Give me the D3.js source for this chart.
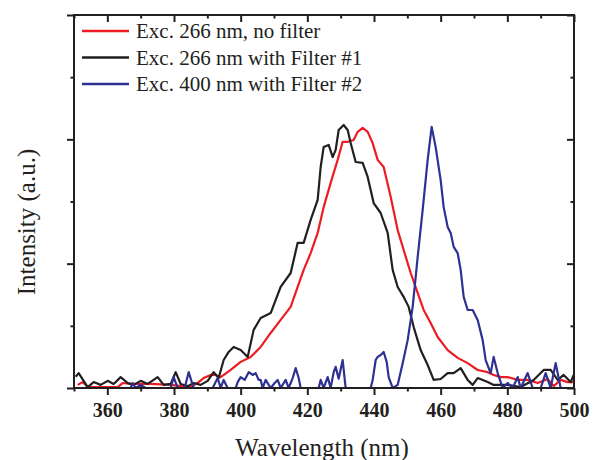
<!DOCTYPE html>
<html>
<head>
<meta charset="utf-8">
<script src="https://cdn.jsdelivr.net/npm/d3@7"></script>
<style>
    body { margin: 0; background: #fff; }
    svg { display: block; }
</style>
</head>
<body>
<div id="chart"></div>
<script>
// Wavelength (nm) and normalised intensity
let noFilterNm = [351.1, 352.6, 354.1, 358.0, 363.1, 364.6, 367.0, 373.0, 379.0, 382.0, 385.0, 387.0, 388.9, 391.0, 392.5, 394.0, 397.0, 400.0, 403.0, 406.0, 409.0, 412.0, 415.0, 417.1, 418.9, 421.0, 423.1, 424.9, 427.0, 429.1, 430.6, 432.1, 433.9, 435.1, 436.6, 438.1, 439.6, 441.1, 442.9, 445.0, 447.1, 448.9, 451.0, 453.1, 454.9, 457.0, 459.1, 462.1, 465.1, 468.1, 471.1, 474.1, 475.9, 478.0, 480.1, 483.1, 486.1, 489.1, 492.1, 493.9, 496.0, 498.1, 499.9]
let noFilterI = [0.010, 0.019, 0.003, 0.003, 0.003, 0.016, 0.013, 0.013, 0.010, 0.006, 0.003, 0.016, 0.032, 0.042, 0.042, 0.035, 0.058, 0.084, 0.100, 0.132, 0.177, 0.219, 0.261, 0.325, 0.380, 0.434, 0.499, 0.582, 0.660, 0.734, 0.792, 0.792, 0.798, 0.824, 0.837, 0.824, 0.788, 0.734, 0.711, 0.615, 0.508, 0.444, 0.370, 0.306, 0.251, 0.209, 0.164, 0.122, 0.097, 0.080, 0.058, 0.051, 0.042, 0.035, 0.035, 0.026, 0.026, 0.016, 0.029, 0.006, 0.026, 0.019, 0.019]

let filter1Nm = [350.5, 351.4, 354.1, 355.9, 358.0, 360.1, 361.9, 364.0, 366.1, 367.9, 370.0, 372.1, 375.1, 376.9, 379.0, 380.5, 382.0, 384.1, 385.9, 388.0, 390.1, 391.9, 393.4, 394.9, 396.4, 397.9, 400.0, 402.1, 403.9, 406.0, 409.0, 412.0, 415.0, 417.1, 418.9, 421.0, 423.1, 424.0, 424.9, 426.4, 427.6, 428.5, 429.4, 430.9, 432.1, 433.0, 434.5, 436.6, 438.1, 439.9, 442.0, 444.1, 445.6, 447.1, 448.9, 450.4, 451.9, 454.0, 456.1, 457.9, 460.0, 462.1, 463.9, 466.0, 468.1, 469.6, 471.1, 474.1, 475.9, 480.1, 484.0, 487.9, 490.9, 493.0, 495.1, 496.9, 499.0, 499.9]
let filter1I = [0.036, 0.048, 0.003, 0.019, 0.010, 0.023, 0.013, 0.035, 0.016, 0.010, 0.023, 0.013, 0.035, 0.010, 0.013, 0.051, 0.013, 0.006, 0.016, 0.010, 0.023, 0.051, 0.032, 0.090, 0.116, 0.132, 0.122, 0.100, 0.187, 0.225, 0.241, 0.325, 0.370, 0.467, 0.467, 0.541, 0.605, 0.711, 0.775, 0.782, 0.743, 0.766, 0.830, 0.846, 0.830, 0.788, 0.727, 0.724, 0.679, 0.595, 0.563, 0.499, 0.380, 0.325, 0.293, 0.261, 0.196, 0.122, 0.074, 0.026, 0.029, 0.048, 0.048, 0.064, 0.026, 0.010, 0.032, 0.019, 0.010, 0.010, 0.003, 0.026, 0.058, 0.058, 0.026, 0.042, 0.019, 0.042]

let filter2Nm = [350.2, 367.0, 367.6, 368.5, 370.0, 371.5, 379.0, 379.9, 381.1, 383.2, 384.4, 385.9, 391.6, 393.1, 394.0, 394.9, 396.1, 398.5, 399.1, 400.0, 401.2, 402.4, 403.6, 404.5, 405.4, 406.0, 406.6, 407.5, 409.0, 410.2, 411.1, 412.0, 413.5, 414.4, 415.6, 416.5, 417.4, 418.0, 423.4, 424.0, 424.9, 426.1, 427.0, 427.9, 428.5, 429.4, 430.6, 431.5, 439.0, 439.6, 440.5, 441.1, 442.0, 442.9, 443.8, 444.4, 445.6, 447.1, 448.6, 450.1, 451.6, 453.1, 454.6, 456.1, 457.3, 458.5, 460.0, 460.9, 462.1, 463.0, 463.9, 465.1, 466.0, 466.9, 468.1, 469.6, 471.1, 472.6, 473.5, 475.0, 475.9, 477.1, 478.6, 480.1, 481.6, 483.1, 484.0, 486.1, 487.6, 490.0, 491.5, 493.0, 494.5, 496.0, 500.0]
let filter2I = [0.000, 0.000, 0.016, 0.000, 0.010, 0.000, 0.000, 0.035, 0.000, 0.000, 0.051, 0.000, 0.000, 0.032, 0.000, 0.026, 0.000, 0.000, 0.019, 0.035, 0.026, 0.051, 0.042, 0.048, 0.026, 0.026, 0.000, 0.026, 0.000, 0.016, 0.026, 0.000, 0.026, 0.000, 0.032, 0.064, 0.032, 0.000, 0.000, 0.026, 0.000, 0.035, 0.000, 0.051, 0.068, 0.030, 0.090, 0.000, 0.000, 0.026, 0.090, 0.100, 0.106, 0.116, 0.084, 0.035, 0.000, 0.010, 0.080, 0.154, 0.261, 0.421, 0.573, 0.734, 0.840, 0.775, 0.669, 0.582, 0.518, 0.499, 0.454, 0.434, 0.380, 0.293, 0.251, 0.251, 0.219, 0.154, 0.090, 0.048, 0.100, 0.048, 0.000, 0.016, 0.000, 0.035, 0.000, 0.048, 0.000, 0.000, 0.048, 0.000, 0.080, 0.000, 0.000]

let seriesNames = ['Exc. 266 nm, no filter', 'Exc. 266 nm with Filter #1', 'Exc. 400 nm with Filter #2']
let seriesColors = ['#ed1c24', '#231f20', '#2e3192']

let xMajorTicks = [360, 380, 400, 420, 440, 460, 480, 500]
let xMinorTicks = [350, 370, 390, 410, 430, 450, 470, 490]
let yMajorTicks = [0, 0.4, 0.8, 1.2]
let yMinorTicks = [0.2, 0.6, 1.0]

let width = 593,
    height = 460,
    margin = {top: 15, right: 19, bottom: 72, left: 74},
    serif = '"Liberation Serif", "Times New Roman", serif'

let series = [
    {name: seriesNames[0], color: seriesColors[0], data: d3.zip(noFilterNm, noFilterI)},
    {name: seriesNames[1], color: seriesColors[1], data: d3.zip(filter1Nm, filter1I)},
    {name: seriesNames[2], color: seriesColors[2], data: d3.zip(filter2Nm, filter2I)},
]

let $svg = d3.select('#chart').append('svg')
    .attr('width', width)
    .attr('height', height)

let x = d3.scaleLinear()
    .domain([350, 500])
    .range([margin.left, width - margin.right])

let y = d3.scaleLinear()
    .domain([0, 1.2])
    .range([height - margin.bottom, margin.top])

let lineFunction = d3.line()
    .x(d => x(d[0]))
    .y(d => y(d[1]))

// clip so lines never spill over the frame
$svg.append('clipPath').attr('id', 'plotClip')
    .append('rect')
    .attr('x', x.range()[0])
    .attr('y', y.range()[1])
    .attr('width', x.range()[1] - x.range()[0])
    .attr('height', y.range()[0] - y.range()[1])

$svg.append('g')
    .attr('clip-path', 'url(#plotClip)')
    .selectAll('path')
    .data(series)
    .enter().append('path')
    .attr('d', d => lineFunction(d.data))
    .attr('fill', 'none')
    .attr('stroke', d => d.color)
    .attr('stroke-width', 2.2)
    .attr('stroke-linejoin', 'round')

function styleAxis(g) {
    g.select('.domain').remove()
    g.selectAll('line').attr('stroke', '#231f20').attr('stroke-width', 2)
}

let yBottom = y(0), yTop = y(1.2), xLeft = x(350), xRight = x(500)

// bottom: labelled major ticks (outward) + minor ticks
$svg.append('g')
    .attr('transform', `translate(0,${yBottom})`)
    .call(d3.axisBottom(x).tickValues(xMajorTicks).tickSize(7).tickPadding(8).tickFormat(d3.format('d')))
    .call(styleAxis)
    .call(g => g.selectAll('text')
        .attr('fill', '#231f20')
        .style('font-family', serif)
        .style('font-weight', 'bold')
        .style('font-size', '20px'))
$svg.append('g')
    .attr('transform', `translate(0,${yBottom})`)
    .call(d3.axisBottom(x).tickValues(xMinorTicks).tickSize(3.5).tickFormat(''))
    .call(styleAxis)

// top: inward ticks
$svg.append('g')
    .attr('transform', `translate(0,${yTop})`)
    .call(d3.axisTop(x).tickValues(xMajorTicks).tickSize(-7).tickFormat(''))
    .call(styleAxis)
$svg.append('g')
    .attr('transform', `translate(0,${yTop})`)
    .call(d3.axisTop(x).tickValues(xMinorTicks).tickSize(-3.5).tickFormat(''))
    .call(styleAxis)

// left: outward, no labels
$svg.append('g')
    .attr('transform', `translate(${xLeft},0)`)
    .call(d3.axisLeft(y).tickValues(yMajorTicks).tickSize(7).tickFormat(''))
    .call(styleAxis)
$svg.append('g')
    .attr('transform', `translate(${xLeft},0)`)
    .call(d3.axisLeft(y).tickValues(yMinorTicks).tickSize(3.5).tickFormat(''))
    .call(styleAxis)

// right: inward
$svg.append('g')
    .attr('transform', `translate(${xRight},0)`)
    .call(d3.axisRight(y).tickValues(yMajorTicks).tickSize(-7).tickFormat(''))
    .call(styleAxis)
$svg.append('g')
    .attr('transform', `translate(${xRight},0)`)
    .call(d3.axisRight(y).tickValues(yMinorTicks).tickSize(-3.5).tickFormat(''))
    .call(styleAxis)

// frame
$svg.append('rect')
    .attr('x', xLeft)
    .attr('y', yTop)
    .attr('width', xRight - xLeft)
    .attr('height', yBottom - yTop)
    .attr('fill', 'none')
    .attr('stroke', '#231f20')
    .attr('stroke-width', 2)

// axis titles
$svg.append('text')
    .attr('x', (xLeft + xRight) / 2 - 2)
    .attr('y', 456)
    .attr('text-anchor', 'middle')
    .attr('fill', '#231f20')
    .style('font-family', serif)
    .style('font-size', '25px')
    .text('Wavelength (nm)')

$svg.append('text')
    .attr('transform', 'translate(35,222) rotate(-90)')
    .attr('text-anchor', 'middle')
    .attr('fill', '#231f20')
    .style('font-family', serif)
    .style('font-size', '25px')
    .text('Intensity (a.u.)')

// legend
let legend = $svg.append('g')
    .selectAll('g')
    .data(series)
    .enter().append('g')
    .attr('transform', (d, i) => `translate(82,${31 + i * 26.5})`)

legend.append('line')
    .attr('x1', 0)
    .attr('x2', 47)
    .attr('stroke', d => d.color)
    .attr('stroke-width', 2.5)

legend.append('text')
    .attr('x', 54)
    .attr('y', 7)
    .attr('fill', '#231f20')
    .style('font-family', serif)
    .style('font-size', '21px')
    .text(d => d.name)
</script>
</body>
</html>
